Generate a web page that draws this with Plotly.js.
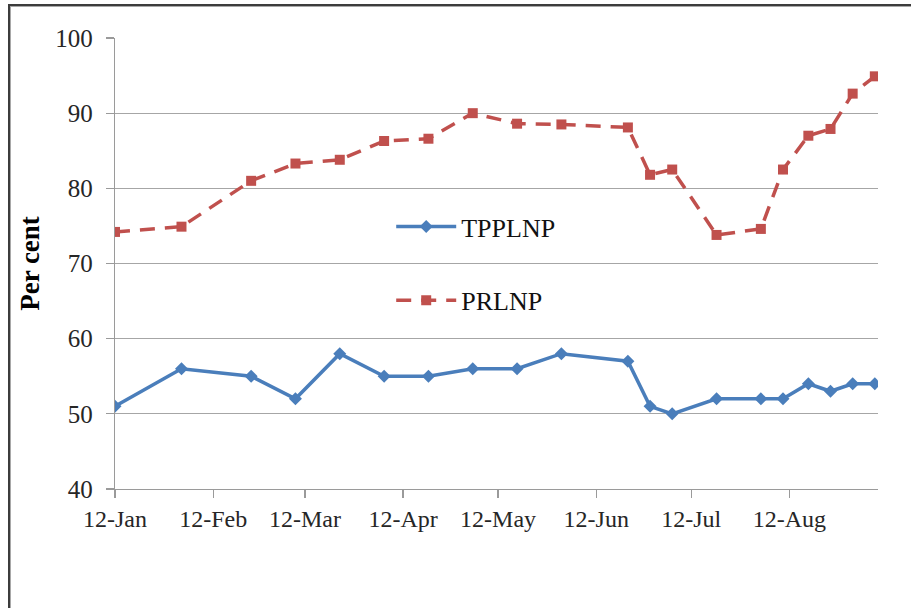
<!DOCTYPE html>
<html><head><meta charset="utf-8">
<script src="https://cdn.plot.ly/plotly-3.0.1.min.js"></script>
<style>
body{margin:0;padding:0;background:#fff;}
#wrap{position:relative;width:911px;height:608px;overflow:hidden;}
#frame{position:absolute;left:8px;top:4px;width:1000px;height:700px;border-left:2px solid #3c3c3c;border-top:2px solid #3c3c3c;box-shadow:inset 1px 1px 0 #a8a8a8;pointer-events:none;}
#chart{position:absolute;left:0;top:0;width:911px;height:608px;}
</style></head>
<body>
<div id="wrap"><div id="chart"></div><div id="frame"></div></div>
<script>
const dates = ["2012-01-01","2012-01-22","2012-02-13","2012-02-27","2012-03-12","2012-03-26","2012-04-09","2012-04-23","2012-05-07","2012-05-21","2012-06-11","2012-06-18","2012-06-25","2012-07-09","2012-07-23","2012-07-30","2012-08-07","2012-08-14","2012-08-21","2012-08-28"];
const tpplnp = [51,56,55,52,58,55,55,56,56,58,57,51,50,52,52,52,54,53,54,54];
const prlnp = [74.2,74.9,81.0,83.3,83.8,86.3,86.6,90.0,88.6,88.5,88.1,81.8,82.5,73.8,74.6,82.5,87.0,87.9,92.6,94.9];
const tickVals = ["2012-01-01","2012-02-01","2012-03-01","2012-04-01","2012-05-01","2012-06-01","2012-07-01","2012-08-01"];
const tickText = ["12-Jan","12-Feb","12-Mar","12-Apr","12-May","12-Jun","12-Jul","12-Aug"];
const font = "'Liberation Serif', 'Times New Roman', serif";

const traces = [
  {x: dates, y: tpplnp, name: "TPPLNP", type: "scatter", mode: "lines+markers",
   line: {color: "#4A7EBB", width: 3.5}, marker: {symbol: "diamond", size: 10, color: "#4A7EBB"}, legendgroup: "a"},
  {x: dates, y: prlnp, name: "PRLNP", type: "scatter", mode: "lines+markers",
   line: {color: "#C0504D", width: 3.5, dash: "15px,10px"}, marker: {symbol: "square", size: 10, color: "#C0504D"}, legendgroup: "b"}
];

const layout = {
  width: 911, height: 608,
  margin: {l: 115, r: 33, t: 38, b: 119},
  paper_bgcolor: "#fff", plot_bgcolor: "#fff",
  font: {family: font, color: "#262626", size: 24},
  showlegend: true,
  legend: {x: 0.362, y: 0.634, xanchor: "left", yanchor: "top", bgcolor: "rgba(0,0,0,0)",
           font: {family: font, size: 26, color: "#111"}, tracegroupgap: 37, itemwidth: 60},
  xaxis: {type: "date", range: ["2012-01-01", "2012-08-29"], tickvals: tickVals, ticktext: tickText,
          showgrid: false, showline: true, linecolor: "#9a9a9a", linewidth: 1.3,
          ticks: "outside", ticklen: 8, tickcolor: "#9a9a9a", tickwidth: 1.3,
          tickfont: {family: font, size: 24, color: "#262626"}, zeroline: false},
  yaxis: {range: [40, 100], dtick: 10, tick0: 40, showgrid: true, gridcolor: "#a6a6a6", gridwidth: 1.3,
          showline: true, linecolor: "#9a9a9a", linewidth: 1.3,
          ticks: "outside", ticklen: 8, tickcolor: "#9a9a9a", tickwidth: 1.3, ticklabelstandoff: 8,
          tickfont: {family: font, size: 25, color: "#262626"}, zeroline: false,
          title: {text: "<b>Per cent</b>", font: {family: font, size: 27, color: "#000"}, standoff: 7}}
};

Plotly.newPlot("chart", traces, layout, {displayModeBar: false, staticPlot: true});
</script>
</body></html>
